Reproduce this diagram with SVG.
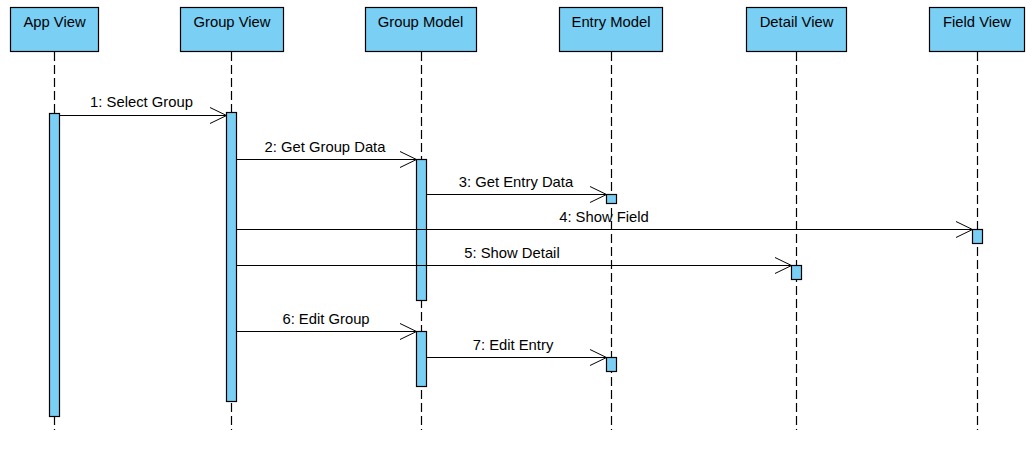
<svg xmlns="http://www.w3.org/2000/svg" width="1032" height="456" viewBox="0 0 1032 456">
<style>
.box{fill:#7ACFF5;stroke:#000;stroke-width:1.2}
.act{fill:#7ACFF5;stroke:#000;stroke-width:1.2}
.life{stroke:#000;stroke-width:1.2;stroke-dasharray:9,4;fill:none}
.msg{stroke:#000;stroke-width:1;fill:none}
.head{stroke:#000;stroke-width:1;fill:none}
text{font-family:"Liberation Sans",Arial,sans-serif;font-size:14.8px;fill:#000;text-anchor:middle}
</style>
<rect width="1032" height="456" fill="#fff"/>
<g id="lifelines">
<line class="life" x1="54.5" y1="52" x2="54.5" y2="430"/>
<line class="life" x1="231.5" y1="52" x2="231.5" y2="430"/>
<line class="life" x1="421.5" y1="52" x2="421.5" y2="430"/>
<line class="life" x1="611.5" y1="52" x2="611.5" y2="430"/>
<line class="life" x1="796.5" y1="52" x2="796.5" y2="430"/>
<line class="life" x1="977.5" y1="52" x2="977.5" y2="430"/>
</g>
<g id="app-view"><rect class="box" x="10.5" y="7.5" width="88" height="44"/><text x="54.5" y="27">App View</text><rect class="act" x="49.5" y="113.5" width="10" height="303"/></g>
<g id="group-view"><rect class="box" x="180.5" y="7.5" width="103" height="44"/><text x="232" y="27">Group View</text><rect class="act" x="226.5" y="112.5" width="10" height="289"/></g>
<g id="group-model"><rect class="box" x="365.5" y="7.5" width="111" height="44"/><text x="420.5" y="27">Group Model</text><rect class="act" x="416.5" y="159.5" width="10" height="141"/><rect class="act" x="416.5" y="331.5" width="10" height="55"/></g>
<g id="entry-model"><rect class="box" x="559.5" y="7.5" width="103" height="44"/><text x="611" y="27">Entry Model</text><rect class="act" x="606.5" y="194.5" width="10" height="9"/><rect class="act" x="606.5" y="357.5" width="10" height="14"/></g>
<g id="detail-view"><rect class="box" x="746.5" y="7.5" width="100" height="44"/><text x="796.5" y="27">Detail View</text><rect class="act" x="791.5" y="265.5" width="10" height="14"/></g>
<g id="field-view"><rect class="box" x="929.5" y="7.5" width="95" height="44"/><text x="977" y="27">Field View</text><rect class="act" x="972.5" y="229.5" width="10" height="14"/></g>
<g id="connectors">
<line class="msg" x1="59.5" y1="115.5" x2="226.5" y2="115.5"/><polyline class="head" points="210,107.5 226.5,115.5 210,123.5"/><text x="141.5" y="106.5">1: Select Group</text>
<line class="msg" x1="236.5" y1="159.5" x2="416.5" y2="159.5"/><polyline class="head" points="400,151.5 416.5,159.5 400,167.5"/><text x="325" y="151.5">2: Get Group Data</text>
<line class="msg" x1="426.5" y1="194.5" x2="606.5" y2="194.5"/><polyline class="head" points="590,186.5 606.5,194.5 590,202.5"/><text x="516" y="186.5">3: Get Entry Data</text>
<line class="msg" x1="236.5" y1="229.5" x2="972.5" y2="229.5"/><polyline class="head" points="956,221.5 972.5,229.5 956,237.5"/><text x="604" y="221.5">4: Show Field</text>
<line class="msg" x1="236.5" y1="265.5" x2="791.5" y2="265.5"/><polyline class="head" points="775,257.5 791.5,265.5 775,273.5"/><text x="512" y="257.5">5: Show Detail</text>
<line class="msg" x1="236.5" y1="331.5" x2="416.5" y2="331.5"/><polyline class="head" points="400,323.5 416.5,331.5 400,339.5"/><text x="326" y="323.5">6: Edit Group</text>
<line class="msg" x1="426.5" y1="357.5" x2="606.5" y2="357.5"/><polyline class="head" points="590,349.5 606.5,357.5 590,365.5"/><text x="513" y="349.5">7: Edit Entry</text>
</g>
</svg>
